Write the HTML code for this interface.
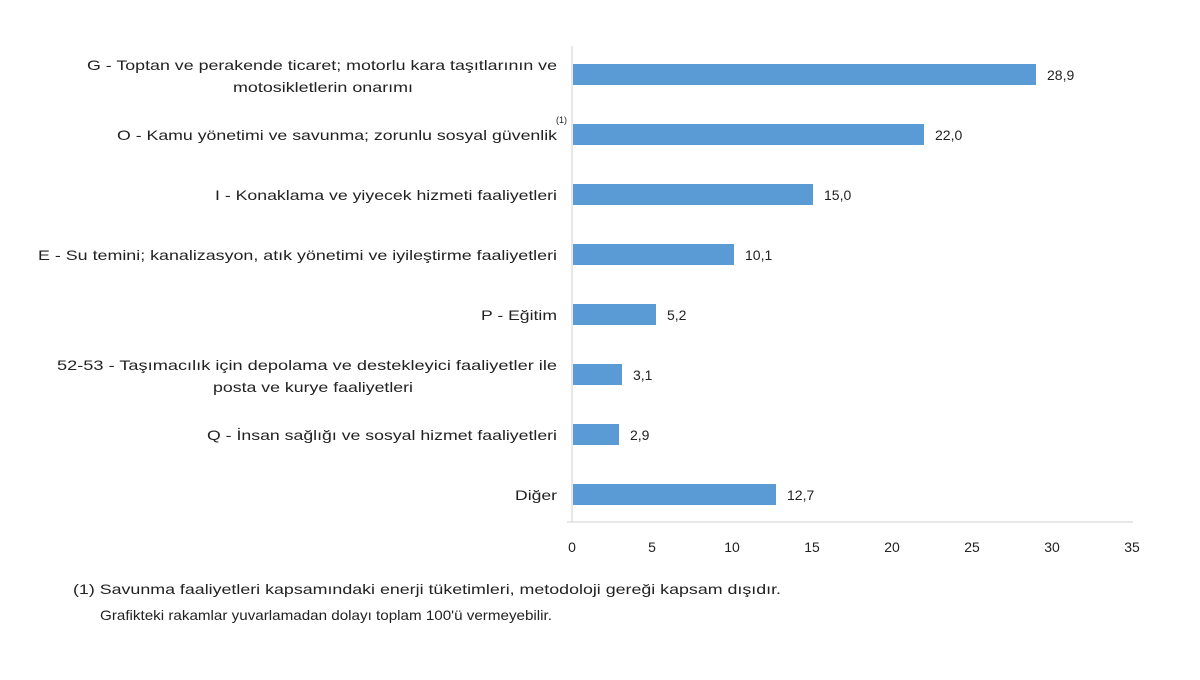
<!DOCTYPE html>
<html><head><meta charset="utf-8"><style>
body{margin:0;background:#fff}
svg text{font-family:"Liberation Sans",sans-serif;fill:#222}
</style></head><body>
<svg width="1200" height="675" viewBox="0 0 1200 675">
<line x1="572" y1="46" x2="572" y2="522" stroke="#d0d0d0"/>
<line x1="567" y1="522" x2="1133" y2="522" stroke="#d0d0d0"/>
<g fill="#5b9bd5">
<rect x="573" y="64" width="463" height="21"/>
<rect x="573" y="124" width="351" height="21"/>
<rect x="573" y="184" width="240" height="21"/>
<rect x="573" y="244" width="161" height="21"/>
<rect x="573" y="304" width="83" height="21"/>
<rect x="573" y="364" width="49" height="21"/>
<rect x="573" y="424" width="46" height="21"/>
<rect x="573" y="484" width="203" height="21"/>
</g>
<g font-size="14">
<text x="1047" y="80">28,9</text>
<text x="935" y="140">22,0</text>
<text x="824" y="200">15,0</text>
<text x="745" y="260">10,1</text>
<text x="667" y="320">5,2</text>
<text x="633" y="380">3,1</text>
<text x="630" y="440">2,9</text>
<text x="787" y="500">12,7</text>
</g>
<g font-size="14">
<text x="87" y="70" textLength="470" lengthAdjust="spacingAndGlyphs">G - Toptan ve perakende ticaret; motorlu kara taşıtlarının ve</text>
<text x="233" y="92" textLength="180" lengthAdjust="spacingAndGlyphs">motosikletlerin onarımı</text>
<text x="117" y="140" textLength="440" lengthAdjust="spacingAndGlyphs">O - Kamu yönetimi ve savunma; zorunlu sosyal güvenlik</text>
<text x="215" y="200" textLength="342" lengthAdjust="spacingAndGlyphs">I - Konaklama ve yiyecek hizmeti faaliyetleri</text>
<text x="38" y="260" textLength="519" lengthAdjust="spacingAndGlyphs">E - Su temini; kanalizasyon, atık yönetimi ve iyileştirme faaliyetleri</text>
<text x="481" y="320" textLength="76" lengthAdjust="spacingAndGlyphs">P - Eğitim</text>
<text x="57" y="370" textLength="500" lengthAdjust="spacingAndGlyphs">52-53 - Taşımacılık için depolama ve destekleyici faaliyetler ile</text>
<text x="213" y="392" textLength="200" lengthAdjust="spacingAndGlyphs">posta ve kurye faaliyetleri</text>
<text x="207" y="440" textLength="350" lengthAdjust="spacingAndGlyphs">Q - İnsan sağlığı ve sosyal hizmet faaliyetleri</text>
<text x="515" y="500" textLength="42" lengthAdjust="spacingAndGlyphs">Diğer</text>
</g>
<text x="556" y="123" font-size="9">(1)</text>
<g font-size="14" text-anchor="middle">
<text x="572" y="552">0</text><text x="652" y="552">5</text><text x="732" y="552">10</text><text x="812" y="552">15</text>
<text x="892" y="552">20</text><text x="972" y="552">25</text><text x="1052" y="552">30</text><text x="1132" y="552">35</text>
</g>
<text x="73" y="594" font-size="14" textLength="708" lengthAdjust="spacingAndGlyphs">(1) Savunma faaliyetleri kapsamındaki enerji tüketimleri, metodoloji gereği kapsam dışıdır.</text>
<text x="100" y="620" font-size="14" textLength="452" lengthAdjust="spacingAndGlyphs">Grafikteki rakamlar yuvarlamadan dolayı toplam 100'ü vermeyebilir.</text>
</svg>
</body></html>
